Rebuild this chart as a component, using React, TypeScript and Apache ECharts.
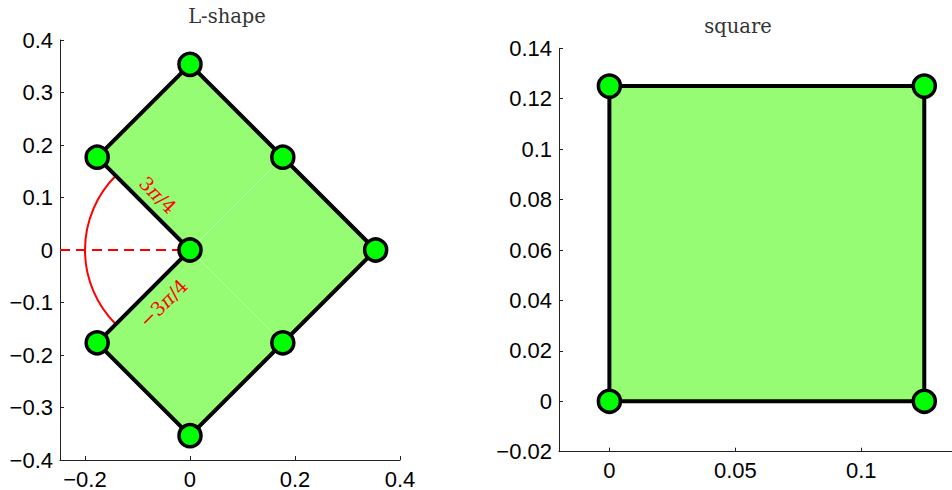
import React, { useEffect, useRef } from "react";
import * as echarts from "echarts";

// ---------- data ----------
// L-shape outline (closed)
const lOutlineX = [0, -0.1768, 0, 0.3536, 0, -0.1768, 0];
const lOutlineY = [0, 0.1768, 0.3536, 0, -0.3536, -0.1768, 0];
// L-shape nodes
const lNodeX = [0, -0.1768, 0, 0.1768, 0.3536, -0.1768, 0.1768, 0];
const lNodeY = [0, 0.1768, 0.3536, 0.1768, 0, -0.1768, -0.1768, -0.3536];
// interior mesh edges [x1, y1, x2, y2]
const lMeshEdges = [
  [0, 0, 0.1768, 0.1768],
  [0, 0, 0.1768, -0.1768],
];
// angle arc: centre, radius, from/to angle (degrees)
const arcCenter = [0, 0];
const arcRadius = 0.2;
const arcFromDeg = 135;
const arcToDeg = 225;
// dashed reference ray y = 0 from the left axis limit to the re-entrant corner
const lXMin = -0.2476;
const lXMax = 0.4;
const refRayX = [lXMin, 0];
const refRayY = [0, 0];
// angle labels
const angleLabelText = ["3{i|π}/4", "−3{i|π}/4"];
const angleLabelX = [-0.061, -0.051];
const angleLabelY = [0.105, -0.101];
const angleLabelRotDeg = [-45, 45];

// square
const sqOutlineX = [0, 0.125, 0.125, 0, 0];
const sqOutlineY = [0, 0, 0.125, 0.125, 0];
const sqNodeX = [0, 0.125, 0.125, 0];
const sqNodeY = [0, 0, 0.125, 0.125];

// axes ticks
const lXTicks = [-0.2, 0, 0.2, 0.4];
const lYMin = -0.4, lYMax = 0.4, lYStep = 0.1;
const sqXMin = -0.02, sqXMax = 0.136;
const sqXTicks = [0, 0.05, 0.1];
const sqYMin = -0.02, sqYMax = 0.14, sqYStep = 0.02;

const titles = ["L-shape", "square"];

// ---------- styles ----------
const FILL = "#95fc74";
const MESH = "#b4ffa4";
const NODE = "#00ff00";
const AXIS = "#222";
const TICK_FONT = "Liberation Sans";
const TICK_SIZE = 22;

const fmt = (v: number) => {
  const r = Math.round(v * 1e6) / 1e6;
  const s = String(Math.abs(r));
  return r < 0 ? "\u2212" + s : s;
};

function axisCommon(grid: number) {
  return {
    type: "value" as const,
    gridIndex: grid,
    splitLine: { show: false },
    axisLine: { show: true, onZero: false, lineStyle: { color: AXIS, width: 1 } },
    axisTick: { show: true, inside: true, length: 4, lineStyle: { color: AXIS } },
    axisLabel: {
      color: "#000",
      fontFamily: TICK_FONT,
      fontSize: TICK_SIZE,
      formatter: fmt,
    },
  };
}

const pairs = (xs: number[], ys: number[]) => xs.map((x, i) => [x, ys[i]]);

function polygonSeries(xs: number[], ys: number[], axisIdx: number) {
  return {
    type: "custom",
    xAxisIndex: axisIdx,
    yAxisIndex: axisIdx,
    silent: true,
    data: pairs(xs, ys),
    encode: { x: 0, y: 1 },
    renderItem: (params: any, api: any) => {
      if (params.dataIndex !== 0) return null;
      const pts = xs.map((x, i) => api.coord([x, ys[i]]));
      return { type: "polygon", shape: { points: pts }, style: { fill: FILL } };
    },
  };
}

function edgeSeries(xs: number[], ys: number[], axisIdx: number) {
  return {
    type: "line",
    xAxisIndex: axisIdx,
    yAxisIndex: axisIdx,
    silent: true,
    symbol: "none",
    data: pairs(xs, ys),
    lineStyle: { color: "#000", width: 4, join: "round" },
    z: 3,
  };
}

function nodeSeries(xs: number[], ys: number[], axisIdx: number) {
  return {
    type: "scatter",
    xAxisIndex: axisIdx,
    yAxisIndex: axisIdx,
    silent: true,
    symbol: "circle",
    symbolSize: 22,
    data: pairs(xs, ys),
    itemStyle: { color: NODE, borderColor: "#000", borderWidth: 3.5, opacity: 1 },
    z: 5,
  };
}

export default function App() {
  const ref = useRef<HTMLDivElement>(null);
  useEffect(() => {
    if (!ref.current) return;
    const chart = echarts.init(ref.current, undefined, { renderer: "svg" });
    const option: any = {
      animation: false,
      backgroundColor: "#fff",
      grid: [
        { left: 60, top: 40, width: 340, height: 420 },
        { left: 559, top: 48.3, width: 393, height: 403.4 },
      ],
      xAxis: [
        {
          ...axisCommon(0),
          min: lXMin,
          max: lXMax,
          axisTick: { show: true, inside: true, length: 4, lineStyle: { color: AXIS }, customValues: lXTicks },
          axisLabel: { ...axisCommon(0).axisLabel, margin: 8, customValues: lXTicks },
        },
        {
          ...axisCommon(1),
          min: sqXMin,
          max: sqXMax,
          axisTick: { show: true, inside: true, length: 4, lineStyle: { color: AXIS }, customValues: sqXTicks },
          axisLabel: { ...axisCommon(1).axisLabel, margin: 8, customValues: sqXTicks },
        },
      ],
      yAxis: [
        {
          ...axisCommon(0),
          min: lYMin,
          max: lYMax,
          interval: lYStep,
          axisLabel: { ...axisCommon(0).axisLabel, margin: 7 },
        },
        {
          ...axisCommon(1),
          min: sqYMin,
          max: sqYMax,
          interval: sqYStep,
          axisLabel: { ...axisCommon(1).axisLabel, margin: 7 },
        },
      ],
      graphic: [
        {
          type: "text",
          x: 227,
          y: 16,
          silent: true,
          style: {
            text: titles[0],
            fontFamily: "DejaVu Serif",
            fontSize: 19.5,
            fill: "#333",
            align: "center",
            verticalAlign: "middle",
          },
        },
        {
          type: "text",
          x: 738,
          y: 26.5,
          silent: true,
          style: {
            text: titles[1],
            fontFamily: "DejaVu Serif",
            fontSize: 19.5,
            fill: "#333",
            align: "center",
            verticalAlign: "middle",
          },
        },
      ],
      series: [
        polygonSeries(lOutlineX, lOutlineY, 0),
        {
          type: "custom",
          xAxisIndex: 0,
          yAxisIndex: 0,
          silent: true,
          data: lMeshEdges,
          encode: { x: [0, 2], y: [1, 3] },
          renderItem: (_p: any, api: any) => {
            const a = api.coord([api.value(0), api.value(1)]);
            const b = api.coord([api.value(2), api.value(3)]);
            return {
              type: "line",
              shape: { x1: a[0], y1: a[1], x2: b[0], y2: b[1] },
              style: { stroke: MESH, lineWidth: 1 },
            };
          },
        },
        {
          type: "custom",
          xAxisIndex: 0,
          yAxisIndex: 0,
          silent: true,
          data: [[arcCenter[0], arcCenter[1], arcRadius, arcFromDeg, arcToDeg]],
          encode: { x: 0, y: 1 },
          renderItem: (_p: any, api: any) => {
            const c = api.coord([api.value(0), api.value(1)]);
            const r = api.size([api.value(2), 0])[0];
            const a0 = (api.value(3) * Math.PI) / 180;
            const a1 = (api.value(4) * Math.PI) / 180;
            return {
              type: "arc",
              shape: { cx: c[0], cy: c[1], r, startAngle: a0, endAngle: a1, clockwise: true },
              style: { stroke: "#ff0000", lineWidth: 2, fill: null },
              z2: 2,
            };
          },
        },
        {
          type: "line",
          xAxisIndex: 0,
          yAxisIndex: 0,
          silent: true,
          symbol: "none",
          data: pairs(refRayX, refRayY),
          lineStyle: { color: "#ff0000", width: 2, type: [10, 6] },
          z: 2,
        },
        {
          type: "custom",
          xAxisIndex: 0,
          yAxisIndex: 0,
          silent: true,
          data: angleLabelX.map((x, i) => [x, angleLabelY[i], angleLabelRotDeg[i]]),
          encode: { x: 0, y: 1 },
          renderItem: (p: any, api: any) => {
            const c = api.coord([api.value(0), api.value(1)]);
            return {
              type: "text",
              x: c[0],
              y: c[1],
              rotation: (api.value(2) * Math.PI) / 180,
              style: {
                text: angleLabelText[p.dataIndex],
                fill: "#ff0000",
                fontFamily: "DejaVu Serif",
                fontSize: 19,
                align: "center",
                verticalAlign: "middle",
                rich: {
                  i: { fontFamily: "DejaVu Serif", fontStyle: "italic", fontSize: 19, fill: "#ff0000" },
                },
              },
            };
          },
          z: 4,
        },
        edgeSeries(lOutlineX, lOutlineY, 0),
        nodeSeries(lNodeX, lNodeY, 0),
        polygonSeries(sqOutlineX, sqOutlineY, 1),
        edgeSeries(sqOutlineX, sqOutlineY, 1),
        nodeSeries(sqNodeX, sqNodeY, 1),
      ],
    };
    chart.setOption(option);
    return () => chart.dispose();
  }, []);
  return (
    <div
      ref={ref}
      style={{ position: "absolute", left: 0, top: 0, width: 952, height: 490 }}
    />
  );
}
